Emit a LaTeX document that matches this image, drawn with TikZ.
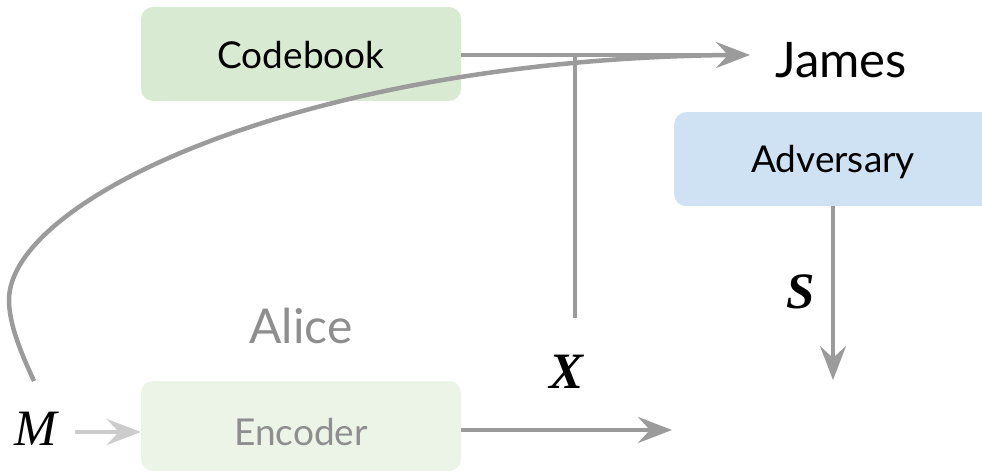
\documentclass[tikz,border=0pt]{standalone}
\usepackage{fontspec}
\setmainfont{Lato}
\newfontfamily\varfont{Liberation Serif}
\usetikzlibrary{arrows.meta}
\definecolor{cbfill}{HTML}{D9EAD3}
\definecolor{encfill}{HTML}{ECF4E8}
\definecolor{advfill}{HTML}{CFE2F3}
\definecolor{wire}{HTML}{9B9B9B}
\definecolor{lightwire}{HTML}{CCCCCC}
\definecolor{softtext}{HTML}{8E8E8E}
\tikzset{
  block/.style={rounded corners=12pt, minimum width=320pt, minimum height=94pt, inner sep=0pt},
  boxtext/.style={font=\fontsize{37}{42}\selectfont},
  varlabel/.style={font=\varfont\itshape\fontsize{51}{58}\selectfont, inner sep=0pt},
  boldvar/.style={font=\varfont\bfseries\itshape\fontsize{51}{58}\selectfont, inner sep=0pt},
  tip/.style={-{Stealth[length=34pt,width=26pt,inset=12pt]}},
  wireline/.style={draw=wire, line width=4.5pt},
}
\begin{document}
\begin{tikzpicture}[x=1pt,y=-1pt]
\useasboundingbox (0,0) rectangle (982,473);
\begin{scope}
\clip (0,0) rectangle (982,473);
% boxes
\node[block, fill=cbfill] (codebook) at (301,54) {};
\node[boxtext] (cbtext) at (301,55) {Codebook};
\node[block, fill=advfill, anchor=north west] (adv) at (674,112) {};
\node[boxtext] (advtext) at (833,162) {Adversary};
\node[block, fill=encfill, minimum height=90pt] (enc) at (301,426) {};
\node[boxtext, text=softtext] (enctext) at (301,432) {Encoder};
\end{scope}
% labels
\node[font=\fontsize{49}{56}\selectfont] (james) at (841,60) {James};
\node[text=softtext, font=\fontsize{48}{56}\selectfont] (alice) at (301,326) {Alice};
\node[varlabel] (M) at (36,429) {M};
\node[boldvar] (X) at (567,372) {X};
\node[boldvar] (S) at (801,292) {S};
% connector ends
\coordinate (jin) at (750,55);
\coordinate (tap) at (575,55);
\coordinate (tapend) at (575,318);
\coordinate (mstart) at (34,381);
\coordinate (turn) at (9,300);
\coordinate (merge) at (728,55);
\coordinate (encout) at (672,430);
\coordinate (sout) at (833,380);
% Codebook -> James
\draw[wireline, tip] (codebook.east |- jin) -- (jin);
% tap down towards X
\draw[draw=wire, line width=4pt] (tap) -- (tapend);
% message fed forward to James
\draw[draw=wire, line width=4.5pt] (mstart) .. controls (22,355) and (9,325) .. (turn)
  .. controls (9,200) and (300,60) .. (merge);
% Encoder output X
\draw[wireline, tip] (enc.east |- encout) -- (encout);
% M -> Encoder
\draw[draw=lightwire, line width=4pt, tip] (75,432) -- (enc.west |- 0,432);
% Adversary state S
\draw[draw=wire, line width=4pt, tip] (adv.south -| sout) -- (sout);
\end{tikzpicture}
\end{document}
